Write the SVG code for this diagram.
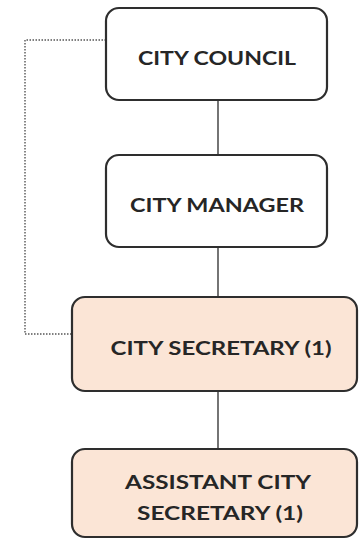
<svg xmlns="http://www.w3.org/2000/svg" width="359" height="539" viewBox="0 0 359 539">
<style>
.box{stroke:#2e2e2e;stroke-width:2.2}
.w{fill:#ffffff}
.p{fill:#fbe5d6}
.t{font-family:Lato,"Open Sans","Liberation Sans",sans-serif;font-weight:bold;font-size:18.5px;fill:#262626;text-anchor:middle}
.c{stroke:#3a3a3a;stroke-width:1.4;fill:none}
.d{stroke:#555;stroke-width:1.4;fill:none;stroke-dasharray:1.5 1.5}
</style>
<rect width="359" height="539" fill="#ffffff"/>
<g id="connectors">
<line class="c" x1="218" y1="100" x2="218" y2="155"/>
<line class="c" x1="218" y1="247" x2="218" y2="297"/>
<line class="c" x1="218" y1="391" x2="218" y2="449"/>
<polyline class="d" points="106,40 25,40 25,334 71,334"/>
</g>
<g id="city-council">
<rect class="box w" x="106" y="8" width="221" height="92" rx="13"/>
<text class="t" x="217" y="64.5" textLength="158" lengthAdjust="spacingAndGlyphs">CITY COUNCIL</text>
</g>
<g id="city-manager">
<rect class="box w" x="106" y="155" width="221" height="92" rx="13"/>
<text class="t" x="217" y="211.5" textLength="174" lengthAdjust="spacingAndGlyphs">CITY MANAGER</text>
</g>
<g id="city-secretary">
<rect class="box p" x="72" y="297" width="285" height="94" rx="13"/>
<text class="t" x="221" y="354.5" textLength="221" lengthAdjust="spacingAndGlyphs">CITY SECRETARY (1)</text>
</g>
<g id="assistant-city-secretary">
<rect class="box p" x="72" y="449" width="285" height="88" rx="13"/>
<text class="t" x="218" y="488.5" textLength="186" lengthAdjust="spacingAndGlyphs">ASSISTANT CITY</text>
<text class="t" x="220" y="519.5" textLength="166" lengthAdjust="spacingAndGlyphs">SECRETARY (1)</text>
</g>
</svg>
